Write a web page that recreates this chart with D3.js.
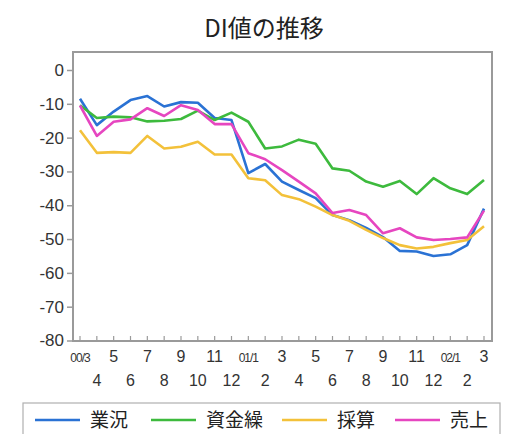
<!DOCTYPE html>
<html>
<head>
<meta charset="utf-8">
<script src="https://cdn.jsdelivr.net/npm/d3@7"></script>
<style>
  body { margin: 0; background: #fff; }
  svg { display: block; }
</style>
</head>
<body>
<script>
// months 00/3 .. 02/3
const months = ["00/3", "4", "5", "6", "7", "8", "9", "10", "11", "12", "01/1", "2",
  "3", "4", "5", "6", "7", "8", "9", "10", "11", "12", "02/1", "2", "3"];

const gyokyo = [-8.5, -16.3, -12.3, -8.9, -7.7, -10.8, -9.5, -9.7, -14.2, -14.8, -30.5, -27.8,
  -33, -35.5, -37.9, -42.9, -44.4, -46.7, -49.4, -53.5, -53.7, -55, -54.5, -51.8, -41];
const shikinguri = [-10.4, -14.2, -13.8, -14, -15.2, -15, -14.5, -12, -14.8, -12.6, -15.3, -23.2,
  -22.6, -20.6, -21.8, -29.1, -29.8, -33, -34.5, -32.8, -36.7, -32, -35, -36.7, -32.5];
const saisan = [-17.8, -24.5, -24.3, -24.5, -19.5, -23.2, -22.7, -21.2, -25, -25, -32, -32.6,
  -37, -38.2, -40.4, -42.9, -44.6, -47.3, -49.7, -51.8, -52.8, -52.3, -51.2, -50.3, -46.2];
const uriage = [-10.5, -19.5, -15.3, -14.6, -11.3, -13.6, -10.4, -11.8, -16, -16, -24.6, -26.4,
  -29.6, -33, -36.5, -42.3, -41.4, -42.9, -48.3, -46.8, -49.5, -50.3, -50, -49.5, -41.6];

const seriesNames = ["業況", "資金繰", "採算", "売上"];
const seriesColors = ["#2a72d4", "#3dba3d", "#f3c13a", "#e646c0"];
const seriesValues = [gyokyo, shikinguri, saisan, uriage];

const yTicks = [0, -10, -20, -30, -40, -50, -60, -70, -80];

const width = 512, height = 434;
const frame = { left: 73, right: 492, top: 52, bottom: 341 };

const svg = d3.select("body").append("svg")
  .attr("width", width)
  .attr("height", height);

const x = d3.scaleLinear().domain([0, months.length - 1]).range([80, 484]);
const y = d3.scaleLinear().domain([-80, 0]).range([frame.bottom - 0.5, 70]);

// title
svg.append("text")
  .attr("x", 264)
  .attr("y", 37)
  .attr("text-anchor", "middle")
  .attr("font-family", "'Noto Sans CJK JP', sans-serif")
  .attr("font-size", 24)
  .attr("fill", "#222")
  .text("DI値の推移");

// plot frame
svg.append("rect")
  .attr("x", frame.left)
  .attr("y", frame.top)
  .attr("width", frame.right - frame.left)
  .attr("height", frame.bottom - frame.top)
  .attr("fill", "#fff")
  .attr("stroke", "#9a9a9a")
  .attr("stroke-width", 2);

// y axis ticks + labels
const yAxis = svg.append("g")
  .attr("transform", `translate(${frame.left},0)`)
  .call(d3.axisLeft(y).tickValues(yTicks).tickSize(6).tickPadding(3).tickFormat((d) => String(d)));
yAxis.select(".domain").remove();
yAxis.selectAll(".tick line").attr("stroke", "#9a9a9a").attr("stroke-width", 1.5);
yAxis.selectAll(".tick text")
  .attr("font-family", "'Liberation Sans', Arial, sans-serif")
  .attr("font-size", 17)
  .attr("fill", "#333");

// x axis small inner ticks
svg.append("g")
  .selectAll("line")
  .data(months)
  .join("line")
  .attr("x1", (d, i) => x(i))
  .attr("x2", (d, i) => x(i))
  .attr("y1", frame.bottom)
  .attr("y2", frame.bottom - 5)
  .attr("stroke", "#9a9a9a")
  .attr("stroke-width", 1.2);

// x labels on two rows
svg.append("g")
  .selectAll("text")
  .data(months)
  .join("text")
  .attr("x", (d, i) => x(i))
  .attr("y", (d, i) => (i % 2 === 0 ? 362 : 386))
  .attr("text-anchor", "middle")
  .attr("font-family", "'Liberation Sans', Arial, sans-serif")
  .attr("font-size", (d) => (d.includes("/") ? 12 : 16))
  .attr("letter-spacing", (d) => (d.includes("/") ? -1 : 0))
  .attr("fill", "#333")
  .text((d) => d);

// lines
const line = d3.line()
  .x((d, i) => x(i))
  .y((d) => y(d));

svg.append("g")
  .selectAll("path")
  .data(seriesValues)
  .join("path")
  .attr("d", (d) => line(d))
  .attr("fill", "none")
  .attr("stroke", (d, i) => seriesColors[i])
  .attr("stroke-width", 2.6)
  .attr("stroke-linejoin", "round");

// legend
const legend = svg.append("g");
legend.append("rect")
  .attr("x", 23)
  .attr("y", 403)
  .attr("width", 477)
  .attr("height", 40)
  .attr("fill", "#fff")
  .attr("stroke", "#b0b0b0")
  .attr("stroke-width", 1.2);

const legendX = [35, 151, 282, 395];
const item = legend.selectAll("g.item")
  .data(seriesNames)
  .join("g")
  .attr("class", "item")
  .attr("transform", (d, i) => `translate(${legendX[i]},420)`);
item.append("line")
  .attr("x1", 0)
  .attr("x2", 45)
  .attr("stroke", (d, i) => seriesColors[i])
  .attr("stroke-width", 2.6);
item.append("text")
  .attr("x", 55)
  .attr("y", 7)
  .attr("font-family", "'Noto Sans CJK JP', sans-serif")
  .attr("font-size", 19)
  .attr("fill", "#222")
  .text((d) => d);
</script>
</body>
</html>
